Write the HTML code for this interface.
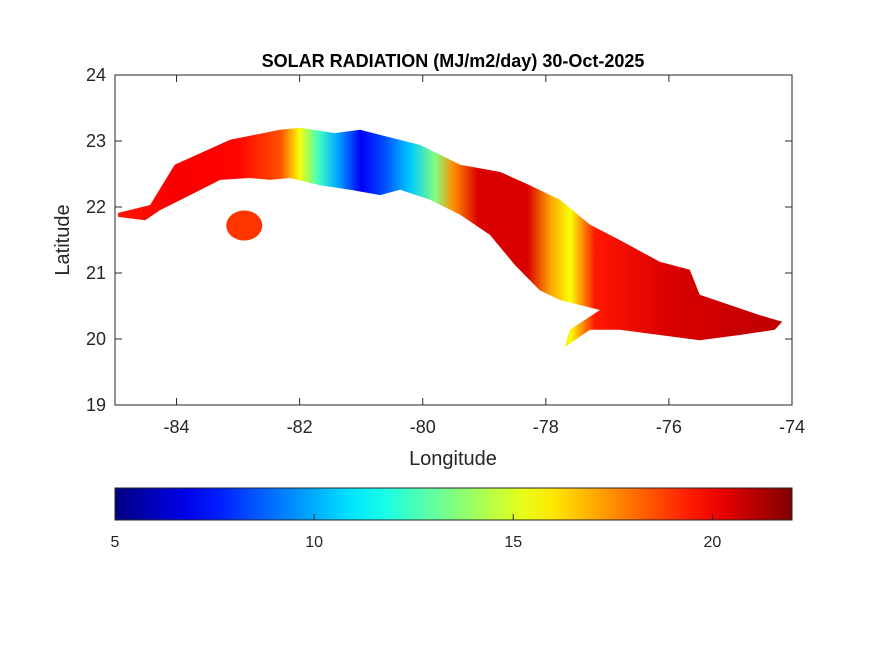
<!DOCTYPE html>
<html><head><meta charset="utf-8"><style>
body{margin:0;background:#fff;}
svg{display:block;font-family:"Liberation Sans",Arial,sans-serif;}
</style></head><body>
<svg id="c" width="875" height="656" viewBox="0 0 875 656"></svg>
<script>
const lonTicks=[-84,-82,-80,-78,-76,-74];
const latTicks=[19,20,21,22,23,24];
const cbTicks=[5,10,15,20];
const cbMin=5, cbMax=22;
// island outline [lon, lat]
const cubaLon=[-84.95,-84.43,-84.03,-83.13,-82.32,-81.99,-81.43,-81.02,-80.04,-79.39,-78.74,-78.26,-77.77,-77.28,-76.8,-76.15,-75.66,-75.5,-74.52,-74.16,-74.28,-74.85,-75.5,-76.15,-76.8,-77.28,-77.69,-77.61,-77.12,-77.77,-78.1,-78.5,-78.91,-79.39,-79.88,-80.37,-80.69,-81.18,-81.67,-82.16,-82.48,-82.81,-83.29,-83.78,-84.27,-84.51,-84.95];
const cubaLat=[21.91,22.03,22.64,23.02,23.17,23.2,23.12,23.17,22.94,22.64,22.53,22.33,22.11,21.73,21.5,21.17,21.05,20.67,20.36,20.26,20.14,20.06,19.98,20.06,20.14,20.14,19.88,20.14,20.44,20.59,20.74,21.12,21.58,21.88,22.11,22.26,22.18,22.26,22.33,22.44,22.41,22.44,22.41,22.18,21.95,21.8,21.85];
// radiation by longitude (MJ/m2/day)
const profLon=[-85,-84,-83,-82.3,-82,-81.7,-81.4,-81.0,-80.6,-80.2,-79.8,-79.5,-79.1,-78.3,-77.9,-77.6,-77.2,-76,-74];
const profVal=[19.5,20,19.8,18.5,15.5,12.5,10,7,8.5,10.5,13.5,17.5,20.5,20.5,17,15.5,19.5,20.5,21];
// Isla de la Juventud
const isleLon=-82.9, isleLat=21.72, isleVal=19;
const X=l=>115+(l+85)*(677/11), Y=a=>405-(a-19)*66, CB=v=>115+(v-cbMin)*(677/(cbMax-cbMin));
function jet(t){t=Math.max(0,Math.min(1,t));const f=x=>Math.round(255*Math.max(0,Math.min(1,1.5-Math.abs(4*t-x))));return `rgb(${f(3)},${f(2)},${f(1)})`;}
const col=v=>jet((v-cbMin)/(cbMax-cbMin));
const s=document.getElementById('c');const NS='http://www.w3.org/2000/svg';
function el(t,a,p){const e=document.createElementNS(NS,t);for(const k in a)e.setAttribute(k,a[k]);(p||s).appendChild(e);return e;}
const defs=el('defs',{});
const g=el('linearGradient',{id:'rad',gradientUnits:'userSpaceOnUse',x1:X(-85),y1:0,x2:X(-74),y2:0},defs);
profLon.forEach((l,i)=>el('stop',{offset:((l+85)/11).toFixed(4),'stop-color':col(profVal[i])},g));
const cg=el('linearGradient',{id:'cbar',x1:0,y1:0,x2:1,y2:0},defs);
for(let i=0;i<=20;i++)el('stop',{offset:i/20,'stop-color':jet(i/20)},cg);
const t=el('text',{x:453,y:67,'text-anchor':'middle','font-size':18,'font-weight':'bold'});t.textContent='SOLAR RADIATION (MJ/m2/day) 30-Oct-2025';

const pts=cubaLon.map((l,i)=>X(l).toFixed(1)+','+Y(cubaLat[i]).toFixed(1)).join(' ');
const isl=el('polygon',{points:pts,fill:'url(#rad)'});

const iy=el('ellipse',{cx:X(isleLon),cy:Y(isleLat),rx:18,ry:15,fill:col(isleVal)});

const box=el('rect',{x:115,y:75,width:677,height:330,fill:'none',stroke:'#262626','stroke-width':1});

lonTicks.forEach(l=>{const x=X(l);el('line',{x1:x,x2:x,y1:405,y2:398,stroke:'#262626'});el('line',{x1:x,x2:x,y1:75,y2:82,stroke:'#262626'});
const tx=el('text',{x:x,y:433,'text-anchor':'middle','font-size':18,fill:'#262626'});tx.textContent=l;
});
latTicks.forEach(a=>{const y=Y(a);el('line',{x1:115,x2:122,y1:y,y2:y,stroke:'#262626'});el('line',{x1:792,x2:785,y1:y,y2:y,stroke:'#262626'});
const tx=el('text',{x:106,y:y+6,'text-anchor':'end','font-size':18,fill:'#262626'});tx.textContent=a;
});
const xl=el('text',{x:453,y:465,'text-anchor':'middle','font-size':20,fill:'#262626'});xl.textContent='Longitude';

const yl=el('text',{x:69,y:240,'text-anchor':'middle','font-size':20,fill:'#262626',transform:'rotate(-90 69 240)'});yl.textContent='Latitude';

const cb=el('rect',{x:115,y:488,width:677,height:32,fill:'url(#cbar)',stroke:'#262626'});

cbTicks.forEach(v=>{const x=CB(v);el('line',{x1:x,x2:x,y1:520,y2:514,stroke:'#262626'});
const tx=el('text',{x:x,y:547,'text-anchor':'middle','font-size':16,fill:'#262626'});tx.textContent=v;
});
</script>
</body></html>
